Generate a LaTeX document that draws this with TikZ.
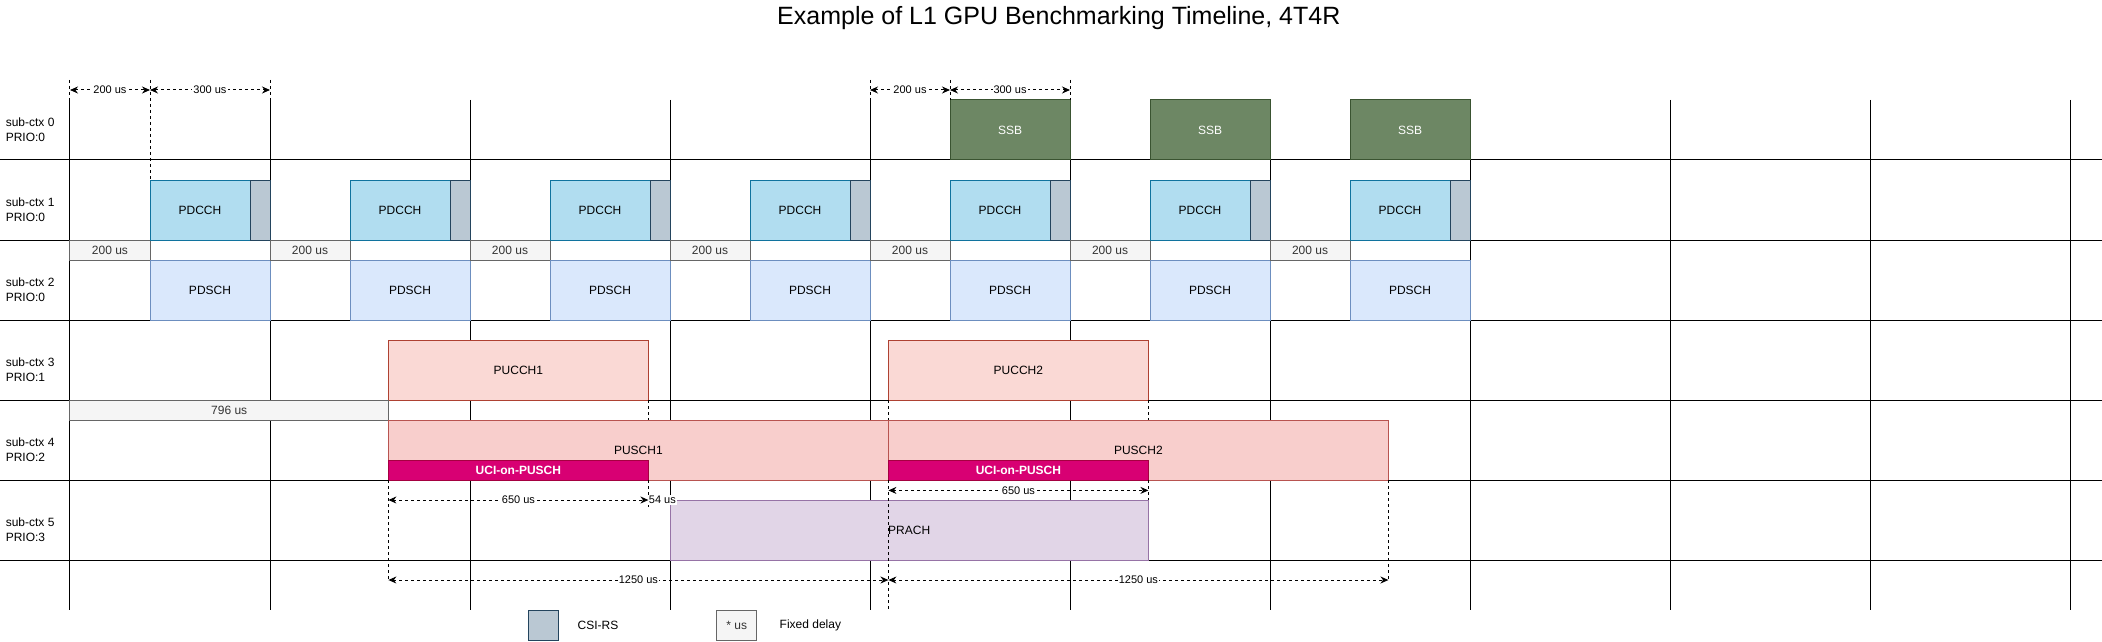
\documentclass[tikz,border=0pt]{standalone}
\usepackage{fontspec}
\setmainfont{Liberation Sans}
\usepackage{tikz}
\usetikzlibrary{arrows.meta}
\definecolor{ssbfill}{HTML}{6D8764}
\definecolor{ssbline}{HTML}{3A5431}
\definecolor{pdcchfill}{HTML}{B1DDF0}
\definecolor{pdcchline}{HTML}{10739E}
\definecolor{csifill}{HTML}{BAC8D3}
\definecolor{csiline}{HTML}{23445D}
\definecolor{pdschfill}{HTML}{DAE8FC}
\definecolor{pdschline}{HTML}{6C8EBF}
\definecolor{delayfill}{HTML}{F5F5F5}
\definecolor{delayline}{HTML}{666666}
\definecolor{delaytext}{HTML}{333333}
\definecolor{pucchfill}{HTML}{FAD9D5}
\definecolor{pucchline}{HTML}{AE4132}
\definecolor{puschfill}{HTML}{F8CECC}
\definecolor{puschline}{HTML}{B85450}
\definecolor{ucifill}{HTML}{D80073}
\definecolor{uciline}{HTML}{A50040}
\definecolor{prachfill}{HTML}{E1D5E7}
\definecolor{prachline}{HTML}{9673A6}
\tikzset{
  tlbase/.style    = {draw,line width=1pt,inner sep=0pt,outer sep=0pt,font=\fontsize{12}{14}\selectfont},
  chanbox/.style   = {tlbase,minimum height=60pt},
  ssbbox/.style    = {chanbox,fill=ssbfill,draw=ssbline,text=white},
  pdcchbox/.style  = {chanbox,fill=pdcchfill,draw=pdcchline},
  csibox/.style    = {chanbox,fill=csifill,draw=csiline},
  pdschbox/.style  = {chanbox,fill=pdschfill,draw=pdschline},
  pucchbox/.style  = {chanbox,fill=pucchfill,draw=pucchline},
  puschbox/.style  = {chanbox,fill=puschfill,draw=puschline},
  prachbox/.style  = {chanbox,fill=prachfill,draw=prachline},
  ucibox/.style    = {tlbase,minimum height=20pt,fill=ucifill,draw=uciline,text=white,font=\fontsize{12}{14}\selectfont\bfseries},
  delaybox/.style  = {tlbase,minimum height=20pt,fill=delayfill,draw=delayline,text=delaytext},
  csilegend/.style = {tlbase,minimum height=30pt,fill=csifill,draw=csiline},
  dlylegend/.style = {tlbase,minimum height=30pt,fill=delayfill,draw=delayline,text=delaytext},
  legtext/.style   = {inner sep=0pt,font=\fontsize{12}{14}\selectfont},
  gridline/.style  = {line width=1pt},
  extline/.style   = {line width=1pt,dash pattern=on 3pt off 3pt},
  dimarr/.style    = {<->,>={Stealth[length=8pt,width=7pt]},line width=1pt,dash pattern=on 3pt off 3pt},
  dimlbl/.style    = {fill=white,inner sep=1pt,font=\fontsize{11}{13}\selectfont},
  rowlbl/.style    = {anchor=west,align=left,inner sep=0pt,font=\fontsize{12}{14.7}\selectfont}
}
\newcommand{\tlbox}[6]{%
  \pgfmathsetlengthmacro{\tlw}{((#4)-(#3))*0.4pt}%
  \node[#1,minimum width=\tlw] (#2) at ({((#3)+(#4))/2},#5) {#6};
}

\begin{document}
\begin{tikzpicture}[x=0.4pt,y=-80pt]
  \useasboundingbox (-175,0) rectangle (5080,8.0125);
  \node[anchor=base,inner sep=0pt,font=\fontsize{25}{30}\selectfont] (title) at (2472,0.3125) {Example of L1 GPU Benchmarking Timeline, 4T4R};

  \coordinate (gtop) at (0,1.25);
  \coordinate (gbot) at (0,7.625);
  \foreach \r in {2,...,7}
    \draw[gridline] (-175,\r) -- (5080,\r);
  \foreach \k in {0,...,10}
    \draw[gridline] (500*\k,1.25) -- (500*\k,7.625);

  \foreach \r/\p in {0/0,1/0,2/0,3/1,4/2,5/3}
    \node[rowlbl] (ctx\r) at (-161,\r+1.625) {sub-ctx \r\\PRIO:\p};

  \foreach \k in {0,...,6}{
    \tlbox{delaybox}{dly\k}{500*\k}{500*\k+200}{3.125}{200 us}
    \tlbox{pdcchbox}{pdcch\k}{500*\k+200}{500*\k+450}{2.625}{PDCCH}
    \tlbox{csibox}{csi\k}{500*\k+450}{500*\k+500}{2.625}{}
    \tlbox{pdschbox}{pdsch\k}{500*\k+200}{500*\k+500}{3.625}{PDSCH}
  }
  \foreach \k in {0,1,2}{
    \tlbox{ssbbox}{ssb\k}{2200+500*\k}{2500+500*\k}{1.625}{SSB}
  }
  \tlbox{pucchbox}{pucch1}{796}{1446}{4.625}{PUCCH1}
  \tlbox{pucchbox}{pucch2}{2046}{2696}{4.625}{PUCCH2}
  \tlbox{delaybox}{dly796}{0}{796}{5.125}{796 us}
  \tlbox{puschbox}{pusch1}{796}{2046}{5.625}{PUSCH1}
  \tlbox{puschbox}{pusch2}{2046}{3296}{5.625}{PUSCH2}
  \tlbox{ucibox}{uci1}{796}{1446}{5.875}{UCI-on-PUSCH}
  \tlbox{ucibox}{uci2}{2046}{2696}{5.875}{UCI-on-PUSCH}
  \tlbox{prachbox}{prach}{1500}{2696}{6.625}{PRACH}

  \tlbox{csilegend}{lcsi}{1145}{1220}{7.8125}{}
  \node[legtext] (lcsitxt) at (1320,7.8125) {CSI-RS};
  \tlbox{dlylegend}{ldly}{1617}{1717}{7.8125}{* us}
  \node[legtext] (ldlytxt) at (1851,7.8125) {Fixed delay};

  \coordinate (dA0) at (0,1.125);
  \coordinate (dA1) at (200,1.125);
  \coordinate (dA2) at (500,1.125);
  \coordinate (dB0) at (2000,1.125);
  \coordinate (dB1) at (2200,1.125);
  \coordinate (dB2) at (2500,1.125);
  \coordinate (dC0) at (796,6.25);
  \coordinate (dC1) at (1446,6.25);
  \coordinate (dD0) at (2046,6.13);
  \coordinate (dD1) at (2696,6.13);
  \coordinate (dE0) at (796,7.25);
  \coordinate (dE1) at (2046,7.25);
  \coordinate (dE2) at (3296,7.25);

  \draw[extline] ([yshift=10pt]dA0) -- (gtop);
  \draw[extline] ([yshift=10pt]dA1) -- (pdcch0.north west);
  \draw[extline] ([yshift=10pt]dA2) -- (dA2 |- gtop);
  \draw[extline] ([yshift=10pt]dB0) -- (dB0 |- gtop);
  \draw[extline] ([yshift=10pt]dB1) -- (ssb0.north west);
  \draw[extline] ([yshift=10pt]dB2) -- (ssb0.north east);
  \draw[extline] (pucch1.south east) -- (pucch1.south east |- pusch1.north);
  \draw[extline] (uci1.south east) -- ([yshift=-8pt]dC1);
  \draw[extline] (pucch2.south west) -- (pusch2.north west);
  \draw[extline] (pucch2.south east) -- (pucch2.south east |- pusch2.north);
  \draw[extline] (uci2.south east) -- (prach.north east);
  \draw[extline] (uci1.south west) -- (dE0);
  \draw[extline] (uci2.south west) -- (dE1 |- gbot);
  \draw[extline] (pusch2.south east) -- (dE2);

  \node[dimlbl] (l54) at (1481,6.25) {54 us};
  \draw[dimarr] (dA0) -- (dA1) node[dimlbl,midway] (lA0) {200 us};
  \draw[dimarr] (dA1) -- (dA2) node[dimlbl,midway] (lA1) {300 us};
  \draw[dimarr] (dB0) -- (dB1) node[dimlbl,midway] (lB0) {200 us};
  \draw[dimarr] (dB1) -- (dB2) node[dimlbl,midway] (lB1) {300 us};
  \draw[dimarr] (dC0) -- (dC1) node[dimlbl,midway] (lC0) {650 us};
  \draw[dimarr] (dD0) -- (dD1) node[dimlbl,midway] (lD0) {650 us};
  \draw[dimarr] (dE0) -- (dE1) node[dimlbl,midway] (lE0) {1250 us};
  \draw[dimarr] (dE1) -- (dE2) node[dimlbl,midway] (lE1) {1250 us};
\end{tikzpicture}
\end{document}
